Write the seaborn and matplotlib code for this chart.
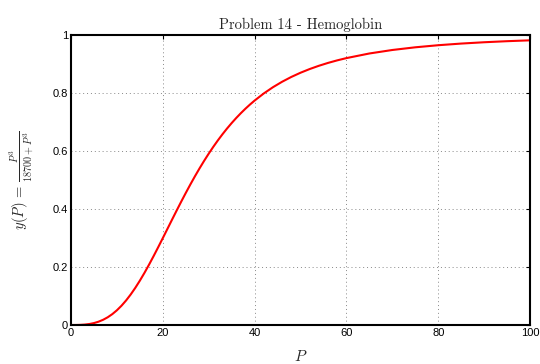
import matplotlib
matplotlib.use("Agg")
import matplotlib.pyplot as plt
import seaborn as sns
import pandas as pd

P = [0, 1, 2, 3, 4, 5, 6, 7, 8, 9, 10, 11, 12, 13, 14, 15, 16, 17, 18, 19, 20,
     21, 22, 23, 24, 25, 26, 27, 28, 29, 30, 31, 32, 33, 34, 35, 36, 37, 38, 39, 40,
     42, 44, 46, 48, 50, 52, 54, 56, 58, 60, 65, 70, 75, 80, 85, 90, 95, 100]
Y = [0.0, 0.00005, 0.00043, 0.00144, 0.00341, 0.00664, 0.01142, 0.01801, 0.02665,
     0.03752, 0.05076, 0.06645, 0.08459, 0.10513, 0.12796, 0.15289, 0.17968, 0.20806,
     0.23773, 0.26836, 0.29963, 0.33121, 0.36282, 0.39418, 0.42504, 0.45521, 0.48451,
     0.51281, 0.53999, 0.56601, 0.59081, 0.61436, 0.63667, 0.65774, 0.67761, 0.69630,
     0.71387, 0.73036, 0.74583, 0.76032, 0.77388,
     0.79847, 0.82000, 0.83884, 0.85537, 0.86987, 0.88262, 0.89385, 0.90377, 0.91254,
     0.92032, 0.93625, 0.94830, 0.95756, 0.96476, 0.97045, 0.97499, 0.97865, 0.98164]
xticks = [0, 20, 40, 60, 80, 100]
yticks = [0, 0.2, 0.4, 0.6, 0.8, 1]
ytick_labels = ["0", "0.2", "0.4", "0.6", "0.8", "1"]

sns.set_style("white")
plt.rcParams["font.family"] = ["Liberation Sans", "DejaVu Sans"]
plt.rcParams["mathtext.fontset"] = "cm"

df = pd.DataFrame({"P": P, "y": Y})
fig = plt.figure(figsize=(5.4, 3.64), dpi=100)
ax = fig.add_axes([71/540, 1-325/364, (530-71)/540, (325-35)/364])
sns.lineplot(data=df, x="P", y="y", ax=ax, color="red", linewidth=1.5)

ax.set_xlim(0, 100)
ax.set_ylim(0, 1)
ax.set_xticks(xticks)
ax.set_xticklabels([str(t) for t in xticks])
ax.set_yticks(yticks)
ax.set_yticklabels(ytick_labels)
ax.tick_params(direction="in", length=3, width=0.8, labelsize=8, colors="black",
               top=True, right=True, pad=2)
ax.grid(True, linestyle=(0, (1, 3)), color="#888888", linewidth=0.7)
for s in ax.spines.values():
    s.set_visible(True)
    s.set_color("black")
    s.set_linewidth(1.5)
ax.set_xlabel(r"$P$", fontsize=11, labelpad=8)
ax.set_ylabel(r"$y(P)\,=\,\frac{P^3}{18700+P^3}$", fontsize=10.5, labelpad=12)
ax.set_title("Problem 14 - Hemoglobin", fontsize=10.5, pad=4, family="cmr10")
fig.savefig("out.png", dpi=100)
